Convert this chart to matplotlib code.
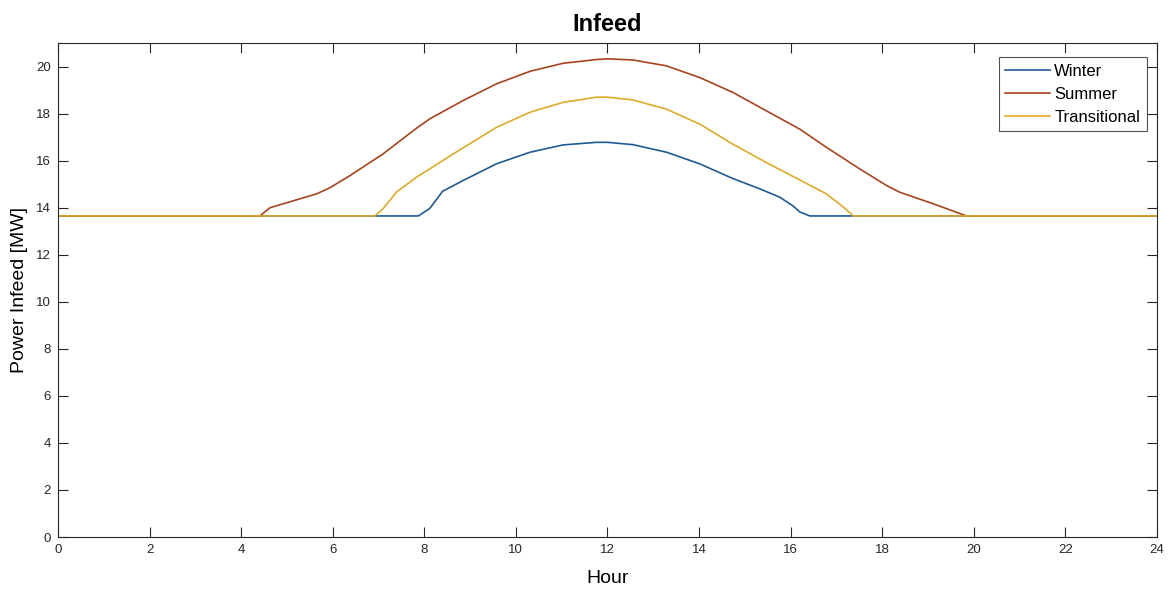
import matplotlib
matplotlib.use("Agg")
import matplotlib.pyplot as plt

plt.rcParams['font.family'] = ['Liberation Sans', 'DejaVu Sans']

base = 13.65

winter_hours = [0, 7.87, 8.12, 8.40, 8.85, 9.58, 10.31, 11.03, 11.76, 12.0, 12.56,
                13.29, 14.02, 14.74, 15.33, 15.76, 16.05, 16.20, 16.42, 24]
winter_vals = [base, base, 13.97, 14.70, 15.16, 15.87, 16.36, 16.67, 16.78, 16.78, 16.68,
               16.36, 15.86, 15.24, 14.80, 14.45, 14.08, 13.82, base, base]

summer_hours = [0, 4.41, 4.63, 5.65, 5.94, 6.38, 7.10, 7.83, 8.12, 8.56, 8.85, 9.58, 10.31,
                11.03, 11.76, 12.0, 12.56, 13.29, 14.02, 14.74, 15.47, 16.20, 16.78, 17.51,
                18.09, 18.38, 19.11, 19.84, 24]
summer_vals = [base, base, 14.0, 14.59, 14.85, 15.37, 16.29, 17.38, 17.78, 18.25, 18.56, 19.27,
               19.8, 20.14, 20.30, 20.33, 20.28, 20.03, 19.53, 18.90, 18.12, 17.34, 16.57,
               15.65, 14.95, 14.66, 14.17, base, base]

trans_hours = [0, 6.92, 7.10, 7.39, 7.83, 8.12, 8.56, 8.85, 9.58, 10.31, 11.03, 11.76,
               12.0, 12.56, 13.29, 14.02, 14.74, 15.47, 16.20, 16.78, 17.15, 17.37, 24]
trans_vals = [base, base, 13.96, 14.66, 15.30, 15.65, 16.20, 16.55, 17.42, 18.06, 18.48, 18.70,
              18.70, 18.58, 18.19, 17.55, 16.70, 15.92, 15.18, 14.59, 14.03, base, base]

series_names = ["Winter", "Summer", "Transitional"]
colors = ["#1f5a94", "#a8441c", "#e0aa28"]

fig = plt.figure(figsize=(11.69, 5.90), dpi=100)
ax = fig.add_axes([0.0496, 0.0898, 0.9401, 0.8372])

ax.plot(winter_hours, winter_vals, color=colors[0], lw=1.2, label=series_names[0])
ax.plot(summer_hours, summer_vals, color=colors[1], lw=1.2, label=series_names[1])
ax.plot(trans_hours, trans_vals, color=colors[2], lw=1.2, label=series_names[2])

ax.set_xlim(0, 24)
ax.set_ylim(0, 21)
ax.set_xticks(range(0, 25, 2))
ax.set_yticks(range(0, 21, 2))
ax.tick_params(direction='in', top=True, right=True, length=7, width=0.8,
               labelsize=9.5, colors='#262626', pad=5)
for s in ax.spines.values():
    s.set_linewidth(0.8)
    s.set_color('#262626')

ax.set_title("Infeed", fontsize=17, fontweight='bold', pad=9)
ax.set_xlabel("Hour", fontsize=14, labelpad=10)
ax.set_ylabel("Power Infeed [MW]", fontsize=14, labelpad=6)

leg = ax.legend(loc='upper right', bbox_to_anchor=(0.9909, 0.9717), borderaxespad=0,
                fontsize=12, frameon=True, fancybox=False,
                edgecolor='#262626', handlelength=2.7,
                handletextpad=0.25, labelspacing=0.48, borderpad=0.4)
leg.get_frame().set_linewidth(0.8)

fig.savefig("out.png", dpi=100)
